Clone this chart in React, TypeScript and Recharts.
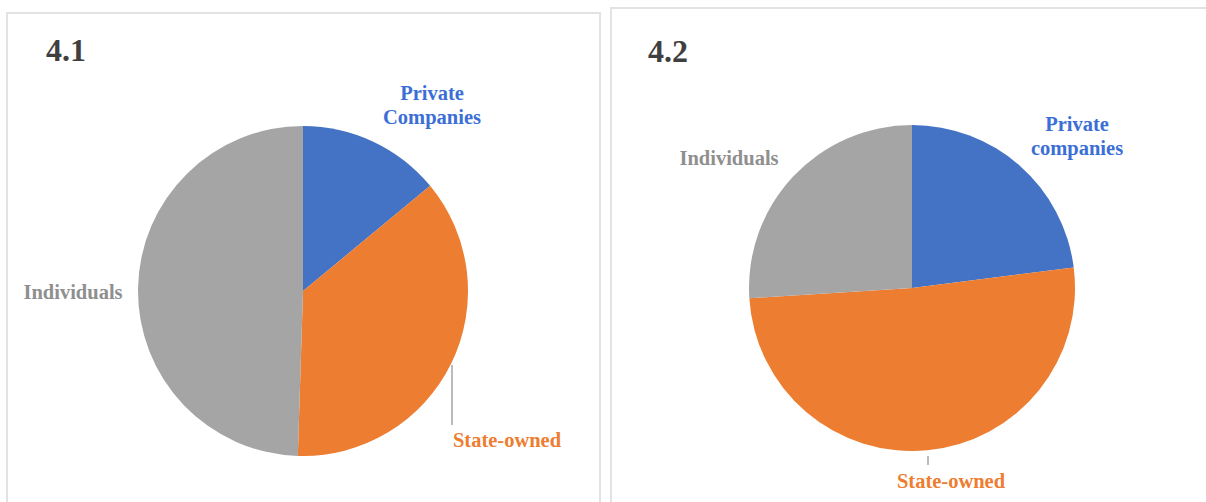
import React from 'react';
import { PieChart, Pie, Cell } from 'recharts';

const categories = ['Private Companies', 'State-owned', 'Individuals'];
const categories2 = ['Private companies', 'State-owned', 'Individuals'];
const values41 = [14, 36.5, 49.5];
const values42 = [23, 51, 26];
const titles = ['4.1', '4.2'];

const sliceColors = ['#4472C4', '#ED7D31', '#A5A5A5'];
const labelColors = ['#3B6FD6', '#ED7D31', '#8F8F8F'];

const data41 = categories.map((name, i) => ({ name, value: values41[i] }));
const data42 = categories2.map((name, i) => ({ name, value: values42[i] }));

const FONT = '"Liberation Serif", "Times New Roman", serif';

// label placement offsets relative to the pie centre (layout, not data)
const layout41 = [
  { dx: 129, dy: -198 },
  { dx: 507 - 303, dy: 149, line: [149, 74, 149, 134] },
  { dx: -230, dy: 1 },
];
const layout42 = [
  { dx: 165, dy: -164 },
  { dx: 39, dy: 193, line: [16, 168, 16, 177] },
  { dx: -183, dy: -130 },
];

const makeLabel = (layout: any[]) => (props: any) => {
  const { cx, cy, index, name } = props;
  const l = layout[index];
  const words = name.split(' ');
  const lines = words.length > 1 && index === 0 ? words : [name];
  const lh = 24;
  const startY = cy + l.dy;
  return (
    <g>
      {l.line && (
        <line
          x1={cx + l.line[0]}
          y1={cy + l.line[1]}
          x2={cx + l.line[2]}
          y2={cy + l.line[3]}
          stroke="#A5A5A5"
          strokeWidth={1.5}
        />
      )}
      <text
        x={cx + l.dx}
        y={startY}
        textAnchor="middle"
        dominantBaseline="central"
        fill={labelColors[index]}
        fontFamily={FONT}
        fontWeight="bold"
        fontSize={20.5}
      >
        {lines.map((t: string, i: number) => (
          <tspan key={i} x={cx + l.dx} y={startY + i * lh}>
            {t}
          </tspan>
        ))}
      </text>
    </g>
  );
};

export default function App() {
  return (
    <div
      style={{
        position: 'fixed',
        left: 0,
        top: 0,
        width: 1206,
        height: 502,
        overflow: 'hidden',
        background: '#ffffff',
      }}
    >
      <div
        style={{
          position: 'absolute',
          left: 6,
          top: 12,
          width: 595,
          height: 520,
          border: '2px solid #E3E3E3',
          boxSizing: 'border-box',
        }}
      />
      <div
        style={{
          position: 'absolute',
          left: 610,
          top: 7,
          width: 620,
          height: 520,
          border: '2px solid #E3E3E3',
          boxSizing: 'border-box',
        }}
      />
      <div
        style={{
          position: 'absolute',
          left: 46,
          top: 32,
          fontFamily: FONT,
          fontWeight: 'bold',
          fontSize: 32,
          color: '#3F3F3F',
          lineHeight: '36px',
        }}
      >
        {titles[0]}
      </div>
      <div
        style={{
          position: 'absolute',
          left: 648,
          top: 33,
          fontFamily: FONT,
          fontWeight: 'bold',
          fontSize: 32,
          color: '#3F3F3F',
          lineHeight: '36px',
        }}
      >
        {titles[1]}
      </div>
      <div style={{ position: 'absolute', left: 0, top: 0 }}>
        <PieChart width={1206} height={502} margin={{ top: 0, right: 0, bottom: 0, left: 0 }}>
          <Pie
            data={data41}
            dataKey="value"
            nameKey="name"
            cx={303}
            cy={291}
            outerRadius={165}
            startAngle={90}
            endAngle={-270}
            stroke="none"
            label={makeLabel(layout41)}
            labelLine={false}
            isAnimationActive={false}
          >
            {data41.map((d, i) => (
              <Cell key={d.name} fill={sliceColors[i]} />
            ))}
          </Pie>
          <Pie
            data={data42}
            dataKey="value"
            nameKey="name"
            cx={912}
            cy={288}
            outerRadius={163}
            startAngle={90}
            endAngle={-270}
            stroke="none"
            label={makeLabel(layout42)}
            labelLine={false}
            isAnimationActive={false}
          >
            {data42.map((d, i) => (
              <Cell key={d.name} fill={sliceColors[i]} />
            ))}
          </Pie>
        </PieChart>
      </div>
    </div>
  );
}
